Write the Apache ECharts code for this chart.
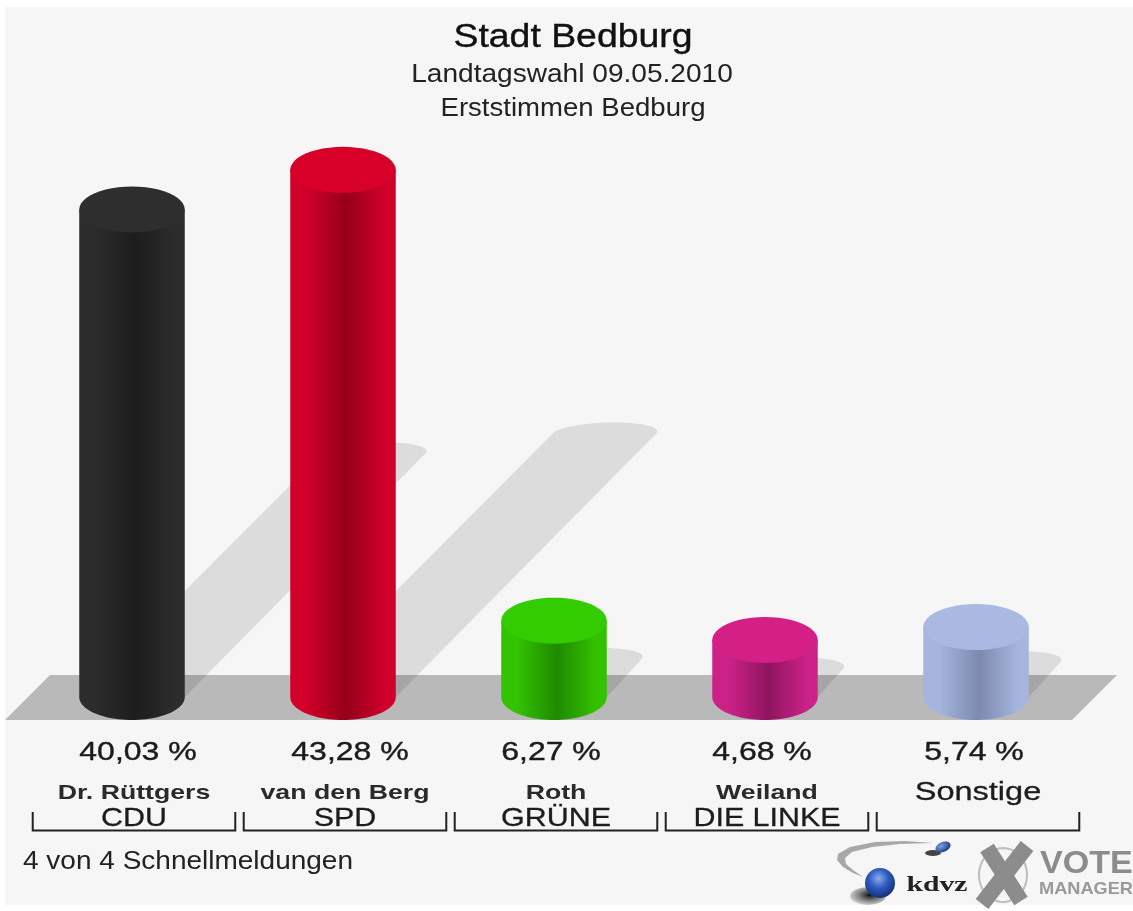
<!DOCTYPE html>
<html lang="de">
<head>
<meta charset="utf-8">
<title>Stadt Bedburg</title>
<style>html,body{margin:0;padding:0;background:#fff;overflow:hidden}#c{width:1133px;height:911px;filter:blur(0.6px)}</style>
<script src="https://cdn.jsdelivr.net/npm/echarts@6/dist/echarts.min.js"></script>
</head>
<body>
<div id="c"></div>
<script>
const candidates = ['Dr. Rüttgers', 'van den Berg', 'Roth', 'Weiland', 'Sonstige'];
const parties = ['CDU', 'SPD', 'GRÜNE', 'DIE LINKE', ''];
const shares = [40.03, 43.28, 6.27, 4.68, 5.74];
const shareLabels = ['40,03 %', '43,28 %', '6,27 %', '4,68 %', '5,74 %'];
const titleLines = ['Stadt Bedburg', 'Landtagswahl 09.05.2010', 'Erststimmen Bedburg'];
const footnote = '4 von 4 Schnellmeldungen';

const topColors = ['#2e2e2e', '#d80028', '#33cc00', '#d41f85', '#a9b9e2'];
const edgeColors = ['#2c2c2c', '#d0002a', '#33c200', '#cc2288', '#a5b5de'];
const darkColors = ['#1d1d1d', '#960018', '#1f8a00', '#8f1560', '#7d8aae'];

const FONT = '"Liberation Sans", Arial, sans-serif';
const INK = '#1c1c1c';
const RY = 23, STEPS = 48;

const chart = echarts.init(document.getElementById('c'), null, {renderer: 'canvas'});

function arc(cx, cy, rx, ry, from, to, skew) {
  const pts = [];
  for (let k = 0; k <= STEPS; k++) {
    const t = from + (to - from) * k / STEPS;
    pts.push([cx + rx * Math.cos(t) + (skew || 0) * Math.sin(t), cy - ry * Math.sin(t)]);
  }
  return pts;
}

function renderShadow(params, api) {
  const base = api.coord([api.value(0), 0]);
  const top = api.coord([api.value(0), api.value(1)]);
  const r = api.size([1, 0])[0] * 0.25;
  const s = (base[1] - top[1]) / 2;
  const cx = base[0], by = base[1];
  const points = [[cx - r, by], [cx + r, by]].concat(arc(cx + s - 2, by - s, r - 1, 11, 0, Math.PI, 10));
  return {type: 'polygon', shape: {points}, style: {fill: 'rgba(0,0,0,0.105)'}};
}

function renderCylinder(params, api) {
  const i = api.value(0);
  const base = api.coord([i, 0]);
  const top = api.coord([i, api.value(1)]);
  const r = api.size([1, 0])[0] * 0.25;
  const cx = base[0];
  const side = {
    type: 'linear', x: 0, y: 0, x2: 1, y2: 0,
    colorStops: [
      {offset: 0, color: edgeColors[i]},
      {offset: 0.15, color: edgeColors[i]},
      {offset: 0.53, color: darkColors[i]},
      {offset: 0.9, color: edgeColors[i]},
      {offset: 1, color: edgeColors[i]}
    ]
  };
  const body = [[cx - r, top[1]], [cx + r, top[1]]].concat(arc(cx, base[1], r, -RY, 0, Math.PI));
  return {
    type: 'group',
    children: [
      {type: 'polygon', shape: {points: body}, style: {fill: side}},
      {type: 'polygon', shape: {points: arc(cx, top[1], r, RY, 0, 2 * Math.PI)}, style: {fill: topColors[i]}}
    ]
  };
}

const pctNudge = [4, 5, -5, -5, -4];

function txt(text, x, y, size, scaleX, weight, fill, align, thick) {
  const color = fill || INK;
  const style = {text, fill: color, font: (weight || 'normal') + ' ' + size + 'px ' + FONT,
    textAlign: align || 'center', textVerticalAlign: 'middle'};
  if (thick) { style.stroke = color; style.lineWidth = thick; }
  return {type: 'text', x, y, scaleX: scaleX || 1, style};
}

function renderLabels(params, api) {
  const i = api.value(0);
  const base = api.coord([i, 0]);
  const half = api.size([1, 0])[0] * 0.48;
  const cx = base[0] + 2, by = base[1];
  const last = parties[i] === '';
  const L = cx - half, R = cx + half;
  const kids = [
    txt(shareLabels[i], cx + pctNudge[i], by + 56, 26, 1.23, 'normal', INK, 'center', 0.4),
    last ? txt(candidates[i], cx, by + 96, 26, 1.25, 'normal', INK, 'center', 0.3)
         : txt(candidates[i], cx, by + 96, 21, 1.27, 'bold', '#2a2a2a'),
    {type: 'polyline',
      shape: {points: [[L, by + 115], [L, by + 133.5], [R, by + 133.5], [R, by + 115]]},
      style: {stroke: '#222', lineWidth: 2, fill: null}}
  ];
  if (!last) kids.push(txt(parties[i], cx, by + 122, 26, 1.17, 'normal', INK, 'center', 0.3));
  return {type: 'group', children: kids};
}

function oval(cx, cy, rx, ry, fill, rotation) {
  return {type: 'circle', x: cx, y: cy, scaleX: rx, scaleY: ry, rotation: rotation || 0,
    shape: {cx: 0, cy: 0, r: 1}, style: {fill}};
}

const swooshOutline = [[933, 843], [905, 841], [875, 842], [850, 847], [838, 854], [837, 860], [843, 867], [853, 873], [863, 877],
  [853, 870], [846, 864], [845, 858], [852, 852], [872, 847], [900, 844]];

const seriesData = shares.map((v, i) => [i, v]);

chart.setOption({
  animation: false,
  backgroundColor: '#ffffff',
  grid: {left: 26.5, right: 51.5, top: 88, bottom: 214},
  xAxis: {type: 'category', data: candidates, show: false},
  yAxis: {type: 'value', min: 0, max: 50, show: false},
  graphic: [
    {type: 'rect', z: -10, shape: {x: 5, y: 7, width: 1128, height: 898}, style: {fill: '#f6f6f6'}},
    {type: 'polygon', z: -9, shape: {points: [[5, 720], [1072, 720], [1117, 675], [50, 675]]}, style: {fill: '#b9b9b9'}},
    Object.assign(txt(titleLines[0], 573, 38, 34, 1.1, 'normal', '#111', 'center', 0.4), {z: 5}),
    Object.assign(txt(titleLines[1], 572, 75, 26, 1.08, 'normal', '#222'), {z: 5}),
    Object.assign(txt(titleLines[2], 573, 109, 26, 1.06, 'normal', '#222'), {z: 5}),
    Object.assign(txt(footnote, 23, 862, 25, 1.12, 'normal', '#222', 'left'), {z: 5}),
    {type: 'group', z: 5, children: [
      {type: 'polygon', shape: {points: swooshOutline}, style: {fill: '#a8a8a8'}},
      oval(933, 853, 8, 3, '#444'),
      oval(943, 847, 8, 5, {type: 'radial', x: 0.4, y: 0.35, r: 0.7, colorStops: [{offset: 0, color: '#7f9fe0'}, {offset: 1, color: '#12337f'}]}, 0.4),
      oval(868, 896, 18, 9, {type: 'radial', x: 0.55, y: 0.45, r: 0.6, colorStops: [{offset: 0, color: '#111'}, {offset: 1, color: 'rgba(60,60,60,0.15)'}]}),
      {type: 'circle', shape: {cx: 880, cy: 883, r: 15}, style: {fill: {type: 'radial', x: 0.45, y: 0.35, r: 0.7, colorStops: [{offset: 0, color: '#8fabec'}, {offset: 0.45, color: '#2f5cc0'}, {offset: 1, color: '#10296e'}]}}},
      {type: 'text', x: 937, y: 885, scaleX: 1.35, style: {text: 'kdvz', fill: '#222', font: 'bold 22px "Liberation Serif", serif', textAlign: 'center', textVerticalAlign: 'middle'}},
      {type: 'polygon', shape: {points: arc(1003, 875, 24, 27, 0, 2 * Math.PI)}, style: {fill: 'none', stroke: '#bdbdbd', lineWidth: 2}},
      {type: 'polyline', shape: {points: [[1027, 846], [982, 904]]}, style: {stroke: '#8c8c8c', lineWidth: 16, fill: null}},
      {type: 'polyline', shape: {points: [[987, 848], [1021, 901]]}, style: {stroke: '#8c8c8c', lineWidth: 16, fill: null}},
      {type: 'text', x: 1040, y: 864, scaleX: 1.1, style: {text: 'VOTE', fill: '#8c8c8c', font: 'bold 31px "Liberation Sans", sans-serif', textAlign: 'left', textVerticalAlign: 'middle'}},
      {type: 'text', x: 1039, y: 889, scaleX: 1.07, style: {text: 'MANAGER', fill: '#999', font: 'bold 17px "Liberation Sans", sans-serif', textAlign: 'left', textVerticalAlign: 'middle'}}
    ]}
  ],
  series: [
    {type: 'custom', z: 2, silent: true, renderItem: renderShadow, data: seriesData, encode: {x: 0, y: 1}},
    {type: 'custom', z: 3, renderItem: renderCylinder, data: seriesData, encode: {x: 0, y: 1}},
    {type: 'custom', z: 4, silent: true, renderItem: renderLabels, data: seriesData, encode: {x: 0, y: 1}, clip: false}
  ]
});
</script>
</body>
</html>
